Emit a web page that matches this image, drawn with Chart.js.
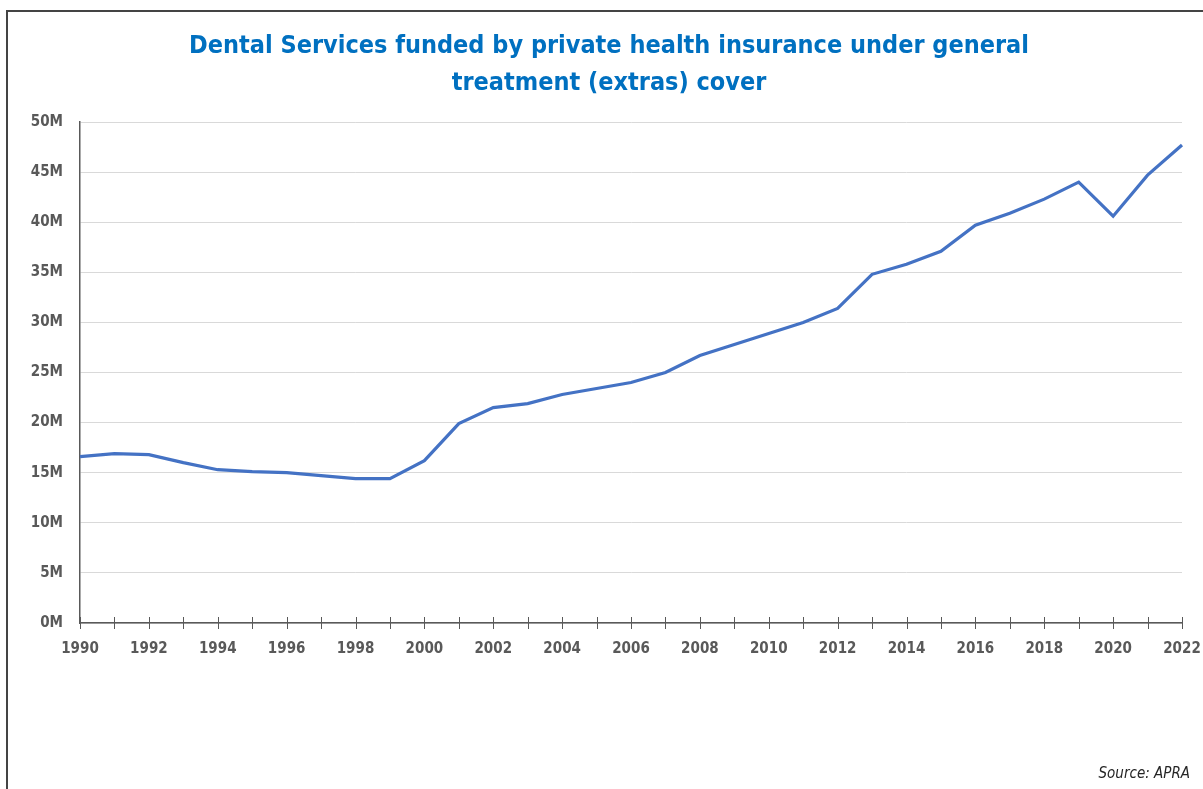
<!DOCTYPE html>
<html>
<head>
<meta charset="utf-8">
<script src="https://cdn.jsdelivr.net/npm/chart.js@4/dist/chart.umd.min.js"></script>
<style>
  html, body { margin: 0; padding: 0; background: #fff; overflow: hidden; }
  #wrap { position: absolute; left: 0; top: 0; width: 1203px; height: 789px; }
  #frame { position: absolute; left: 6px; top: 10px; width: 1210px; height: 800px;
           border-top: 2px solid #444; border-left: 2px solid #444; pointer-events: none; }
</style>
</head>
<body>
<div id="wrap"><canvas id="chart"></canvas></div>
<div id="frame"></div>
<script>
var years = [];
for (var y = 1990; y <= 2022; y++) years.push(String(y));

// dental services, millions
var services = [16.6, 16.9, 16.8, 16.0, 15.3, 15.1, 15.0, 14.7, 14.4, 14.4,
                16.2, 19.9, 21.5, 21.9, 22.8, 23.4, 24.0, 25.0, 26.7, 27.8,
                28.9, 30.0, 31.4, 34.8, 35.8, 37.1, 39.7, 40.9, 42.3, 44.0,
                40.6, 44.7, 47.7];

var titleLines = ['Dental Services funded by private health insurance under general', 'treatment (extras) cover'];
var sourceText = 'Source: APRA';

var narrow = "'Liberation Sans Narrow', 'Arial Narrow', 'DejaVu Sans Condensed', sans-serif";

var ctx = document.getElementById('chart').getContext('2d');
ctx.canvas.width = 1203;
ctx.canvas.height = 789;

// tick marks that cross the x axis line
var crossTicks = {
  id: 'crossTicks',
  afterDraw: function(chart) {
    var xs = chart.scales.x, c = chart.ctx;
    var yb = chart.chartArea.bottom;
    c.save();
    c.strokeStyle = '#595959';
    c.lineWidth = 1;
    c.beginPath();
    for (var i = 0; i < years.length; i++) {
      var px = Math.round(xs.getPixelForValue(i)) + 0.5;
      c.moveTo(px, yb - 6);
      c.lineTo(px, yb + 6);
    }
    c.stroke();
    c.restore();
  }
};

var chart = new Chart(ctx, {
  type: 'line',
  data: {
    labels: years,
    datasets: [{
      label: 'Dental services',
      data: services.map(function(v) { return v * 1e6; }),
      borderColor: '#4472C4',
      borderWidth: 3.2,
      pointRadius: 0,
      tension: 0,
      fill: false
    }]
  },
  options: {
    responsive: false,
    animation: false,
    layout: { padding: { left: 28, right: 13, top: 0, bottom: 6 } },
    plugins: {
      legend: { display: false },
      tooltip: { enabled: false },
      title: {
        display: true,
        text: titleLines,
        color: '#0070C0',
        font: { family: narrow, size: 25, weight: 'bold', lineHeight: 1.48 },
        padding: { top: 28, bottom: 20 }
      },
      subtitle: {
        display: true,
        position: 'bottom',
        align: 'end',
        text: sourceText,
        color: '#262626',
        font: { family: narrow, size: 15, style: 'italic', lineHeight: 1.2 },
        padding: { top: 90, bottom: 0 }
      }
    },
    scales: {
      x: {
        grid: { display: false, drawTicks: false },
        border: { display: true, color: '#595959', width: 1.5 },
        ticks: {
          autoSkip: false,
          maxRotation: 0,
          padding: 17,
          color: '#595959',
          font: { family: narrow, size: 15, weight: 'bold' },
          callback: function(v, i) { return i % 2 === 0 ? years[i] : ''; }
        },
        afterFit: function(s) { s.paddingRight = 21; }
      },
      y: {
        min: 0,
        max: 50e6,
        grid: { color: '#d9d9d9', drawTicks: false },
        border: { display: true, color: '#595959', width: 1.5 },
        ticks: {
          stepSize: 5e6,
          padding: 17,
          color: '#595959',
          font: { family: narrow, size: 15, weight: 'bold' },
          callback: function(v) { return (v / 1e6) + 'M'; }
        },
        afterFit: function(s) { s.width = 52; }
      }
    }
  },
  plugins: [crossTicks]
});
</script>
</body>
</html>
